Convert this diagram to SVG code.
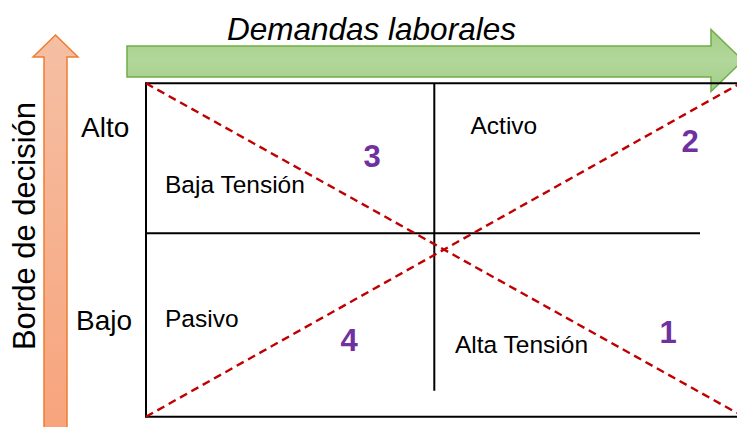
<svg xmlns="http://www.w3.org/2000/svg" width="737" height="427" viewBox="0 0 737 427">
<style>
  text { font-family: "Liberation Sans", Arial, sans-serif; fill: #000; }
  .axis { font-size: 28px; }
  .cell { font-size: 24.5px; }
  .num { font-size: 31px; font-weight: bold; fill: #7030A0; text-anchor: middle; }
  .grid { stroke: #000; stroke-width: 2; fill: none; }
  .diag { stroke: #C00000; stroke-width: 2.4; stroke-dasharray: 8 5; fill: none; }
</style>
<defs>
  <linearGradient id="gGreen" x1="0" y1="0" x2="0" y2="1">
    <stop offset="0" stop-color="#A4CE89"/>
    <stop offset="0.5" stop-color="#B2D79B"/>
    <stop offset="1" stop-color="#A2CD87"/>
  </linearGradient>
  <linearGradient id="gOrange" x1="0" y1="0" x2="0" y2="1">
    <stop offset="0" stop-color="#F5BFA4"/>
    <stop offset="1" stop-color="#F7A47C"/>
  </linearGradient>
</defs>
<rect width="737" height="427" fill="#fff"/>

<g id="arrow-demandas">
  <path d="M127,46 L711,46 L711,29.5 L743,60.5 L711,91.5 L711,77 L127,77 Z" fill="url(#gGreen)" stroke="#70AD47" stroke-width="1.5"/>
  <text x="227" y="39.5" font-size="31.5" font-style="italic">Demandas laborales</text>
</g>

<g id="arrow-decision">
  <path d="M44,430 L44,57 L33,57 L55.5,35 L78,57 L67,57 L67,430 Z" fill="url(#gOrange)" stroke="#ED7D31" stroke-width="1.5"/>
  <text transform="translate(35,226) rotate(-90)" font-size="31" text-anchor="middle">Borde de decisión</text>
</g>

<g id="axis-labels">
  <text class="axis" x="81" y="137.3">Alto</text>
  <text class="axis" x="76" y="330">Bajo</text>
</g>

<g id="connectors">
  <line class="grid" x1="146" y1="83.3" x2="737" y2="83.3"/>
  <line class="grid" x1="146" y1="82.3" x2="146" y2="417.7"/>
  <line class="grid" x1="146" y1="416.7" x2="737" y2="416.7"/>
  <line class="grid" x1="146" y1="233.3" x2="700" y2="233.3"/>
  <line class="grid" x1="434.3" y1="83.3" x2="434.3" y2="390.7"/>
  <line class="diag" x1="146" y1="83.3" x2="737" y2="413"/>
  <line class="diag" x1="146" y1="416.7" x2="740" y2="83.5"/>
</g>

<g id="q-baja-tension">
  <text class="cell" x="165" y="193.3">Baja Tensión</text>
  <text class="num" x="372" y="167.3">3</text>
</g>
<g id="q-activo">
  <text class="cell" x="470.5" y="134.3">Activo</text>
  <text class="num" x="690" y="152">2</text>
</g>
<g id="q-pasivo">
  <text class="cell" x="165" y="326.7">Pasivo</text>
  <text class="num" x="349" y="351">4</text>
</g>
<g id="q-alta-tension">
  <text class="cell" x="455" y="352.7">Alta Tensión</text>
  <text class="num" x="668" y="343">1</text>
</g>
</svg>
